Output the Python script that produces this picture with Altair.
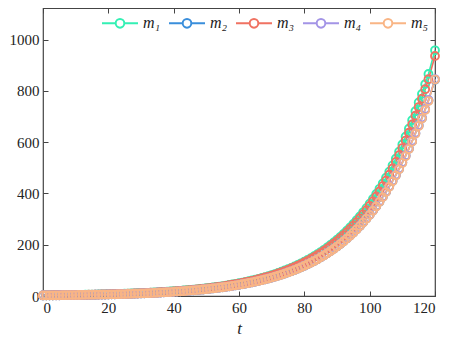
import altair as alt
import pandas as pd

t_vals = list(range(0, 119)) + [120]

m1 = [2.55, 2.68, 2.82, 2.96, 3.11, 3.27, 3.43, 3.61, 3.79, 3.98,
      4.18, 4.40, 4.62, 4.85, 5.10, 5.36, 5.63, 5.92, 6.22, 6.53,
      6.86, 7.21, 7.58, 7.96, 8.37, 8.79, 9.24, 9.71, 10.2, 10.7,
      11.3, 11.8, 12.4, 13.1, 13.7, 14.4, 15.2, 15.9, 16.7, 17.6,
      18.5, 19.4, 20.4, 21.4, 22.5, 23.7, 24.9, 26.1, 27.5, 28.8,
      30.3, 31.8, 33.5, 35.2, 36.9, 38.8, 40.8, 42.9, 45.0, 47.3,
      49.7, 52.2, 54.9, 57.7, 60.6, 63.7, 66.9, 70.3, 73.9, 77.6,
      81.6, 85.7, 90.1, 94.6, 99.4, 104.5, 109.8, 115.4, 121.2, 127.4,
      133.8, 140.6, 147.8, 155.3, 163.1, 171.4, 180.1, 189.3, 198.9, 209.0,
      219.6, 230.7, 242.4, 254.7, 267.7, 281.2, 295.5, 310.5, 326.3, 342.8,
      360.2, 378.5, 397.7, 417.9, 439.1, 461.4, 484.8, 509.4, 535.3, 562.5,
      591.0, 621.0, 652.5, 685.6, 720.4, 755.0, 788.0, 826.0, 866.0, 958.0]

m2 = [2.24, 2.36, 2.48, 2.60, 2.74, 2.88, 3.02, 3.18, 3.34, 3.50,
      3.68, 3.87, 4.07, 4.27, 4.49, 4.72, 4.95, 5.21, 5.47, 5.75,
      6.04, 6.34, 6.67, 7.00, 7.37, 7.74, 8.13, 8.54, 8.98, 9.42,
      9.94, 10.4, 10.9, 11.5, 12.1, 12.7, 13.4, 14.0, 14.7, 15.5,
      16.3, 17.1, 18.0, 18.8, 19.8, 20.9, 21.9, 23.0, 24.2, 25.3,
      26.7, 28.0, 29.5, 31.0, 32.5, 34.1, 35.9, 37.8, 39.6, 41.6,
      43.7, 45.9, 48.3, 50.8, 53.3, 56.1, 58.9, 61.9, 65.0, 68.3,
      71.8, 75.4, 79.3, 83.2, 87.5, 92.0, 96.6, 101.6, 106.7, 112.1,
      117.7, 123.7, 130.1, 136.7, 143.5, 150.8, 158.5, 166.6, 175.0, 183.9,
      193.2, 203.0, 213.3, 224.1, 235.6, 247.5, 260.0, 273.2, 287.1, 301.7,
      317.0, 333.1, 350.0, 367.8, 386.4, 406.0, 426.6, 448.3, 471.1, 495.0,
      520.1, 546.5, 574.2, 603.3, 634.0, 664.4, 693.4, 726.9, 762.1, 843.0]

m3 = [2.49, 2.62, 2.75, 2.89, 3.04, 3.19, 3.35, 3.52, 3.70, 3.88,
      4.08, 4.29, 4.51, 4.73, 4.98, 5.23, 5.49, 5.78, 6.07, 6.37,
      6.70, 7.04, 7.40, 7.77, 8.17, 8.58, 9.02, 9.48, 9.96, 10.4,
      11.0, 11.5, 12.1, 12.8, 13.4, 14.1, 14.8, 15.5, 16.3, 17.2,
      18.1, 18.9, 19.9, 20.9, 22.0, 23.1, 24.3, 25.5, 26.8, 28.1,
      29.6, 31.0, 32.7, 34.4, 36.0, 37.9, 39.8, 41.9, 43.9, 46.2,
      48.5, 50.9, 53.6, 56.3, 59.1, 62.2, 65.3, 68.6, 72.1, 75.7,
      79.6, 83.6, 87.9, 92.3, 97.0, 102.0, 107.2, 112.6, 118.3, 124.3,
      130.6, 137.2, 144.3, 151.6, 159.2, 167.3, 175.8, 184.8, 194.1, 204.0,
      214.3, 225.2, 236.6, 248.6, 261.3, 274.5, 288.4, 303.1, 318.5, 334.6,
      351.6, 369.4, 388.2, 407.9, 428.6, 450.3, 473.2, 497.2, 522.5, 549.0,
      576.8, 606.1, 636.8, 669.1, 703.1, 736.9, 769.1, 806.2, 845.2, 936.0]

m4 = [2.25, 2.37, 2.49, 2.61, 2.75, 2.89, 3.03, 3.19, 3.35, 3.51,
      3.69, 3.89, 4.08, 4.29, 4.50, 4.73, 4.97, 5.22, 5.49, 5.77,
      6.06, 6.37, 6.69, 7.03, 7.39, 7.76, 8.16, 8.57, 9.01, 9.45,
      9.97, 10.4, 11.0, 11.6, 12.1, 12.7, 13.4, 14.0, 14.7, 15.5,
      16.3, 17.1, 18.0, 18.9, 19.9, 20.9, 22.0, 23.1, 24.3, 25.4,
      26.8, 28.1, 29.6, 31.1, 32.6, 34.3, 36.0, 37.9, 39.8, 41.8,
      43.9, 46.1, 48.5, 50.9, 53.5, 56.2, 59.1, 62.1, 65.2, 68.5,
      72.0, 75.7, 79.6, 83.6, 87.8, 92.3, 96.9, 101.9, 107.0, 112.5,
      118.2, 124.2, 130.5, 137.1, 144.1, 151.4, 159.0, 167.1, 175.6, 184.5,
      193.9, 203.7, 214.1, 224.9, 236.4, 248.3, 260.9, 274.2, 288.1, 302.7,
      318.1, 334.2, 351.2, 369.0, 387.7, 407.4, 428.1, 449.8, 472.7, 496.7,
      521.9, 548.3, 576.2, 605.4, 636.1, 666.7, 695.8, 729.4, 764.7, 846.0]

m5 = [2.24, 2.35, 2.47, 2.60, 2.73, 2.87, 3.01, 3.17, 3.33, 3.49,
      3.67, 3.86, 4.06, 4.26, 4.48, 4.71, 4.94, 5.20, 5.46, 5.73,
      6.02, 6.33, 6.66, 6.99, 7.35, 7.72, 8.11, 8.53, 8.96, 9.39,
      9.92, 10.4, 10.9, 11.5, 12.0, 12.6, 13.3, 14.0, 14.7, 15.5,
      16.2, 17.0, 17.9, 18.8, 19.8, 20.8, 21.9, 22.9, 24.1, 25.3,
      26.6, 27.9, 29.4, 30.9, 32.4, 34.1, 35.8, 37.7, 39.5, 41.5,
      43.7, 45.8, 48.2, 50.7, 53.2, 55.9, 58.7, 61.7, 64.9, 68.1,
      71.6, 75.3, 79.1, 83.1, 87.3, 91.7, 96.4, 101.3, 106.4, 111.9,
      117.5, 123.5, 129.7, 136.3, 143.2, 150.5, 158.1, 166.2, 174.6, 183.5,
      192.8, 202.6, 212.8, 223.6, 235.0, 246.9, 259.5, 272.6, 286.5, 301.0,
      316.3, 332.3, 349.2, 366.9, 385.5, 405.1, 425.7, 447.3, 470.0, 493.9,
      518.9, 545.2, 572.9, 601.9, 632.5, 662.9, 691.9, 725.2, 760.3, 844.0]

series_names = ["m\u2081", "m\u2082", "m\u2083", "m\u2084", "m\u2085"]
series_values = [m1, m2, m3, m4, m5]
colors = ["#33F0B4", "#3A8EDB", "#F07262", "#A394E6", "#F9B585"]
x_ticks = [0, 20, 40, 60, 80, 100, 120]
y_ticks = [0, 200, 400, 600, 800, 1000]

rows = []
for name, vals in zip(series_names, series_values):
    for i, (tt, v) in enumerate(zip(t_vals, vals)):
        rows.append({"t": tt, "value": v, "series": name, "order": i})
df = pd.DataFrame(rows)

W, H = 392, 288
FONT = "Liberation Serif, Times New Roman, serif"
TICK_COLOR = "#444444"
TEXT_COLOR = "#222222"

x_scale = alt.Scale(domain=[0, 120], nice=False, zero=False)
y_scale = alt.Scale(domain=[0, 1123], nice=False)

sym_path = ("M-1,0H-0.24M0.24,0H1M-0.24,0A0.24,0.24,0,1,1,0.24,0"
            "A0.24,0.24,0,1,1,-0.24,0Z")

color_enc = alt.Color(
    "series:N",
    scale=alt.Scale(domain=series_names, range=colors),
    legend=alt.Legend(
        orient="none", legendX=58, legendY=-4, direction="horizontal",
        columns=5, title=None, symbolType=sym_path, symbolSize=1296,
        symbolStrokeWidth=2, symbolFillColor="transparent",
        labelFont=FONT, labelFontSize=16, labelFontStyle="italic",
        labelColor=TEXT_COLOR, labelOffset=4, columnPadding=4, padding=0,
    ),
)

lines = alt.Chart(df).mark_line(strokeWidth=1.6).encode(
    x=alt.X("t:Q", scale=x_scale,
            axis=alt.Axis(orient="bottom", values=x_ticks, format="d",
                          ticks=False, domain=False, grid=False,
                          labelPadding=4, labelFont=FONT, labelFontSize=15,
                          labelColor=TEXT_COLOR, title="t",
                          titleFont=FONT, titleFontSize=17,
                          titleFontStyle="italic", titleFontWeight="normal",
                          titleColor=TEXT_COLOR, titleBaseline="alphabetic",
                          titleY=37)),
    y=alt.Y("value:Q", scale=y_scale,
            axis=alt.Axis(orient="left", values=y_ticks, format="d",
                          ticks=False, domain=False, grid=False,
                          labelPadding=4, labelFont=FONT, labelFontSize=15,
                          labelColor=TEXT_COLOR, title=None)),
    color=color_enc,
    order="order:Q",
)

points = alt.Chart(df).mark_point(filled=False, size=62, strokeWidth=1.9,
                                  opacity=1).encode(
    x=alt.X("t:Q", scale=x_scale,
            axis=alt.Axis(orient="top", offset=-H, values=x_ticks,
                          ticks=True, tickSize=5, tickColor=TICK_COLOR,
                          labels=False, domain=False, grid=False,
                          title=None)),
    y=alt.Y("value:Q", scale=y_scale,
            axis=alt.Axis(orient="right", offset=-W, values=y_ticks,
                          ticks=True, tickSize=5, tickColor=TICK_COLOR,
                          labels=False, domain=False, grid=False,
                          title=None)),
    color=color_enc,
)

mirror = alt.Chart(df).mark_point(opacity=0).encode(
    x=alt.X("t:Q", scale=x_scale,
            axis=alt.Axis(orient="bottom", offset=-H, values=x_ticks,
                          ticks=True, tickSize=5, tickColor=TICK_COLOR,
                          labels=False, domain=False, grid=False,
                          title=None)),
    y=alt.Y("value:Q", scale=y_scale,
            axis=alt.Axis(orient="left", offset=-W, values=y_ticks,
                          ticks=True, tickSize=5, tickColor=TICK_COLOR,
                          labels=False, domain=False, grid=False,
                          title=None)),
)

chart = alt.layer(lines, points, mirror).resolve_axis(
    x="independent", y="independent"
).properties(
    width=W, height=H,
    autosize=alt.AutoSizeParams(type="none"),
    padding={"left": 35, "top": 0, "right": 6, "bottom": 41},
).configure_view(
    stroke=TICK_COLOR, strokeWidth=1.2
)

chart.save("out.html", embed_options={"renderer": "svg", "actions": False})
